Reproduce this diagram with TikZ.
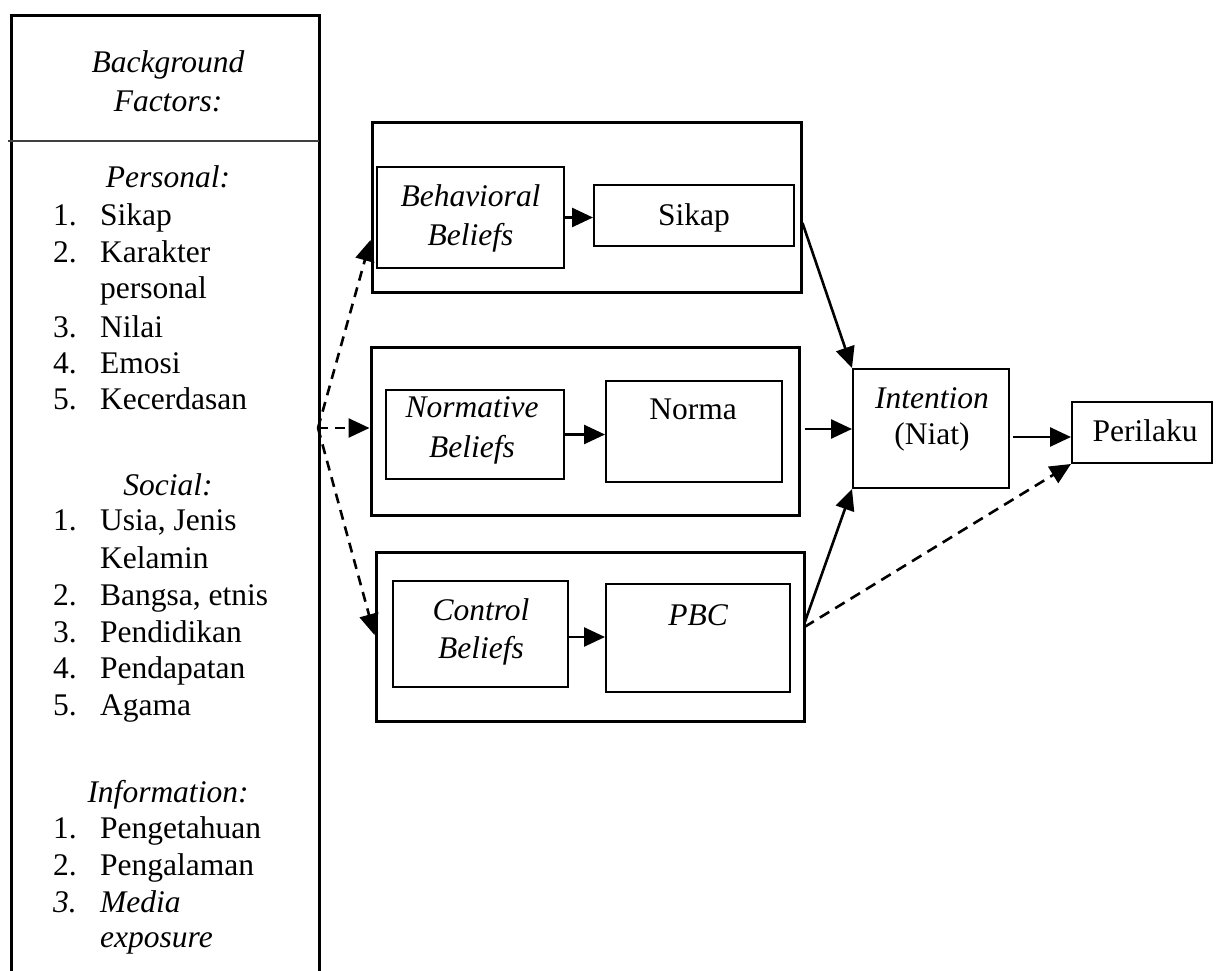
\documentclass[tikz,border=0pt]{standalone}
\usepackage{fontspec}
\setmainfont{Liberation Serif}
\usetikzlibrary{arrows.meta}
\begin{document}
\begin{tikzpicture}[x=1pt,y=-1pt,
  outer/.style={draw, line width=3pt, inner sep=0pt},
  inbox/.style={draw, line width=2pt, inner sep=0pt},
  conn/.style={line width=2.6pt, -{Triangle[length=21pt,width=19pt]}},
  dconn/.style={conn, dash pattern=on 10pt off 7pt},
  txt/.style={font=\fontsize{31.5}{37}\selectfont, inner sep=0pt, anchor=base},
  it/.style={txt, font=\fontsize{31.5}{37}\selectfont\itshape},
  num/.style={txt, anchor=base west},
  itnum/.style={it, anchor=base west}]
\useasboundingbox (0,0) rectangle (1216,971);

% ---- background factors column (open at the bottom) ----
\draw[line width=3pt] (11,971) -- (11,16) -- (319,16) -- (319,971);
\draw[line width=1.8pt, black!75] (8,141) -- (319,141);
\coordinate (src) at (318,428);

\node[it] (hdA) at (168,73) {Background};
\node[it] (hdB) at (168,112) {Factors:};

\node[it] (hper) at (168,188) {Personal:};
\node[num] (pn1) at (53,225) {1.}; \node[num] (p1) at (100,225) {Sikap};
\node[num] (pn2) at (53,262) {2.}; \node[num] (p2) at (100,262) {Karakter};
\node[num] (p2b) at (100,298) {personal};
\node[num] (pn3) at (53,337) {3.}; \node[num] (p3) at (100,337) {Nilai};
\node[num] (pn4) at (53,373) {4.}; \node[num] (p4) at (100,373) {Emosi};
\node[num] (pn5) at (53,409) {5.}; \node[num] (p5) at (100,409) {Kecerdasan};

\node[it] (hsoc) at (168,495) {Social:};
\node[num] (sn1) at (53,530) {1.}; \node[num] (s1) at (100,530) {Usia, Jenis};
\node[num] (s1b) at (100,568) {Kelamin};
\node[num] (sn2) at (53,605) {2.}; \node[num] (s2) at (100,605) {Bangsa, etnis};
\node[num] (sn3) at (53,642) {3.}; \node[num] (s3) at (100,642) {Pendidikan};
\node[num] (sn4) at (53,678) {4.}; \node[num] (s4) at (100,678) {Pendapatan};
\node[num] (sn5) at (53,715) {5.}; \node[num] (s5) at (100,715) {Agama};

\node[it] (hinf) at (168,802) {Information:};
\node[num] (in1) at (53,838) {1.}; \node[num] (i1) at (100,838) {Pengetahuan};
\node[num] (in2) at (53,875) {2.}; \node[num] (i2) at (100,875) {Pengalaman};
\node[itnum] (in3) at (53,912) {3.}; \node[itnum] (i3) at (100,912) {Media};
\node[itnum] (i3b) at (100,947) {exposure};

% ---- belief groups ----
\node[outer, minimum width=429pt, minimum height=169pt] (g1) at (586.5,207.5) {};
\node[inbox, minimum width=187pt, minimum height=101pt] (bb) at (470.5,217.5) {};
\node[inbox, minimum width=200pt, minimum height=61pt] (sik) at (694,215.5) {};

\node[outer, minimum width=428pt, minimum height=168pt] (g2) at (585,431) {};
\node[inbox, minimum width=178pt, minimum height=89pt] (nb) at (475,434.5) {};
\node[inbox, minimum width=176pt, minimum height=101pt] (nor) at (694,431.5) {};

\node[outer, minimum width=428pt, minimum height=169pt] (g3) at (590,636.5) {};
\node[inbox, minimum width=175pt, minimum height=106pt] (cb) at (480.5,634) {};
\node[inbox, minimum width=184pt, minimum height=108pt] (pbc) at (698,638) {};

\node[inbox, minimum width=156pt, minimum height=119pt] (int) at (931,428.5) {};
\node[inbox, minimum width=140pt, minimum height=61pt] (per) at (1142,432.5) {};

% ---- box texts ----
\node[it] (bbA) at (470.5,207) {Behavioral};
\node[it] (bbB) at (470.5,245) {Beliefs};
\node[txt] (sikT) at (694,225) {Sikap};
\node[it] (nbA) at (472,417) {Normative};
\node[it] (nbB) at (472,457) {Beliefs};
\node[txt] (norT) at (693,419) {Norma};
\node[it] (cbA) at (481,620) {Control};
\node[it] (cbB) at (481,658) {Beliefs};
\node[it] (pbcT) at (698,625) {PBC};
\node[it] (intA) at (932,408) {Intention};
\node[txt] (intB) at (932,444) {(Niat)};
\node[txt] (perT) at (1145,441) {Perilaku};

% ---- connectors ----
\draw[conn] (bb.east) -- (bb.east -| sik.west);
\draw[conn] (nb.east) -- (nb.east -| nor.west);
\draw[conn] ([yshift=-3pt]cb.east) -- ([yshift=-3pt]cb.east -| pbc.west);

\draw[dconn] (src) -- ([yshift=-32.5pt]g1.west);
\draw[dconn] (src) -- (src -| g2.west);
\draw[dconn] (src) -- ([yshift=1.5pt]g3.west);

\draw[conn] ([yshift=-15.5pt]g1.east) -- (int.north west);
\draw[conn] ([xshift=4pt,yshift=2pt]g2.east) -- ([yshift=2pt]g2.east -| int.west);
\draw[conn] ([xshift=-1pt,yshift=13.5pt]g3.east) -- (int.south west);
\draw[conn, dash pattern=on 11pt off 7pt] ([xshift=-1pt,yshift=9.5pt]g3.east) -- (per.south west);
\draw[conn] ([xshift=3pt,yshift=-8.5pt]int.east) -- ([yshift=-8.5pt]int.east -| per.west);
\end{tikzpicture}
\end{document}
